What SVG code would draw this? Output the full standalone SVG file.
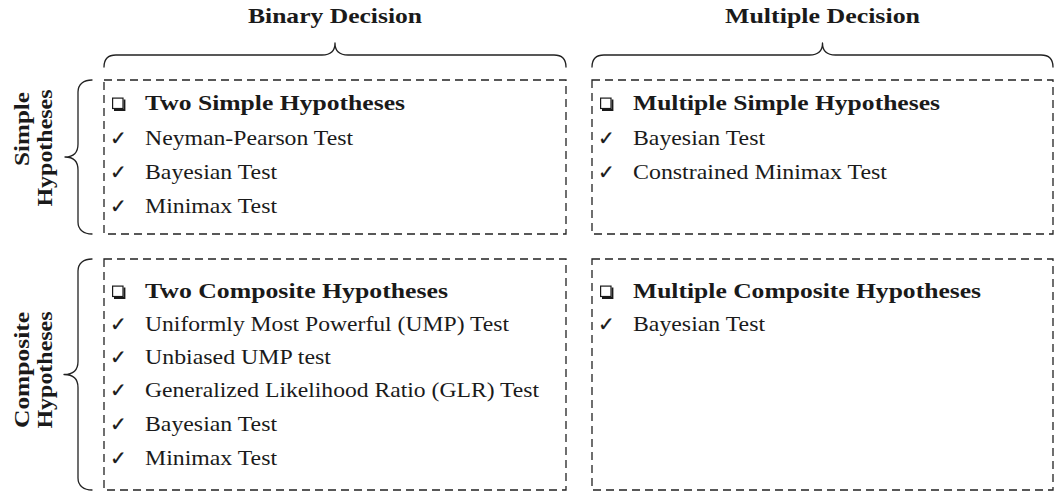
<svg xmlns="http://www.w3.org/2000/svg" width="1054" height="493" viewBox="0 0 1054 493">
  <style>
    .bg { fill: #ffffff; }
    .box { fill: none; stroke: #222222; stroke-width: 1.3; stroke-dasharray: 8 5; }
    .brace { fill: none; stroke: #222222; stroke-width: 1.3; stroke-linejoin: round; stroke-linecap: round; }
    .t { font-family: "Liberation Serif", "Times New Roman", serif; font-size: 22px; fill: #1a1a1a; }
    .b { font-weight: bold; }
    .h { text-anchor: middle; }
    .e { text-anchor: end; }
    .ck { font-family: "DejaVu Sans", sans-serif; font-size: 20px; fill: #1a1a1a; stroke: #1a1a1a; stroke-width: 0.25; }
  </style>
  <defs>
    <!-- shadowed square bullet -->
    <g id="sqbullet">
      <rect x="0.6" y="0.6" width="10.4" height="10.4" fill="none" stroke="#1a1a1a" stroke-width="1.2"/>
      <path d="M11.6,2 H13.4 V13.4 H2 V11.6 H11.6 Z" fill="#1a1a1a"/>
    </g>
  </defs>
  <rect class="bg" x="0" y="0" width="1054" height="493"/>

  <!-- column headings -->
  <g id="head-binary">
    <text class="t b h" x="335" y="23" textLength="174" lengthAdjust="spacingAndGlyphs">Binary Decision</text>
  </g>
  <g id="head-multiple">
    <text class="t b h" x="822.5" y="23" textLength="195" lengthAdjust="spacingAndGlyphs">Multiple Decision</text>
  </g>

  <!-- row headings -->
  <g id="row-simple">
    <text class="t b e" transform="translate(29,92) rotate(-90)" textLength="74" lengthAdjust="spacingAndGlyphs">Simple</text>
    <text class="t b h" transform="translate(52,148) rotate(-90)" textLength="117" lengthAdjust="spacingAndGlyphs">Hypotheses</text>
  </g>
  <g id="row-composite">
    <text class="t b h" transform="translate(29,370) rotate(-90)" textLength="116" lengthAdjust="spacingAndGlyphs">Composite</text>
    <text class="t b h" transform="translate(52,370) rotate(-90)" textLength="117" lengthAdjust="spacingAndGlyphs">Hypotheses</text>
  </g>

  <!-- braces -->
  <g id="connectors">
    <path class="brace" d="M104,67 C104,59 108,55 116,55 L322,55 C330,55 335,51 335,43 C335,51 340,55 348,55 L554,55 C562,55 566,59 566,67"/>
    <path class="brace" d="M592,67 C592,59 596,55 604,55 L809.5,55 C817.5,55 822.5,51 822.5,43 C822.5,51 827.5,55 835.5,55 L1041,55 C1049,55 1053,59 1053,67"/>
    <path class="brace" d="M92,80 C84,80 78,84 78,92 L78,144 C78,152 74,157 65,157 C74,157 78,162 78,170 L78,222 C78,230 84,234 92,234"/>
    <path class="brace" d="M92,259 C84,259 78,263 78,271 L78,361.5 C78,369.5 74,374.5 64,374.5 C74,374.5 78,379.5 78,387.5 L78,478 C78,486 84,490 92,490"/>
  </g>

  <!-- binary / simple -->
  <g id="cell-binary-simple">
    <rect class="box" x="104" y="80" width="462" height="154"/>
    <use href="#sqbullet" x="112" y="97.5"/>
    <text class="t b" x="145" y="110" textLength="260" lengthAdjust="spacingAndGlyphs">Two Simple Hypotheses</text>
    <text class="ck" x="110" y="145">✓</text>
    <text class="t" x="145" y="145" textLength="208" lengthAdjust="spacingAndGlyphs">Neyman-Pearson Test</text>
    <text class="ck" x="110" y="179">✓</text>
    <text class="t" x="145" y="179" textLength="132" lengthAdjust="spacingAndGlyphs">Bayesian Test</text>
    <text class="ck" x="110" y="213">✓</text>
    <text class="t" x="145" y="213" textLength="132" lengthAdjust="spacingAndGlyphs">Minimax Test</text>
  </g>

  <!-- multiple / simple -->
  <g id="cell-multiple-simple">
    <rect class="box" x="592" y="80" width="461" height="154"/>
    <use href="#sqbullet" x="600" y="97.5"/>
    <text class="t b" x="633" y="110" textLength="307" lengthAdjust="spacingAndGlyphs">Multiple Simple Hypotheses</text>
    <text class="ck" x="598" y="145">✓</text>
    <text class="t" x="633" y="145" textLength="132" lengthAdjust="spacingAndGlyphs">Bayesian Test</text>
    <text class="ck" x="598" y="179">✓</text>
    <text class="t" x="633" y="179" textLength="254" lengthAdjust="spacingAndGlyphs">Constrained Minimax Test</text>
  </g>

  <!-- binary / composite -->
  <g id="cell-binary-composite">
    <rect class="box" x="104" y="259" width="462" height="231"/>
    <use href="#sqbullet" x="112" y="285.5"/>
    <text class="t b" x="145" y="298" textLength="303" lengthAdjust="spacingAndGlyphs">Two Composite Hypotheses</text>
    <text class="ck" x="110" y="331">✓</text>
    <text class="t" x="145" y="331" textLength="364" lengthAdjust="spacingAndGlyphs">Uniformly Most Powerful (UMP) Test</text>
    <text class="ck" x="110" y="364">✓</text>
    <text class="t" x="145" y="364" textLength="186" lengthAdjust="spacingAndGlyphs">Unbiased UMP test</text>
    <text class="ck" x="110" y="397">✓</text>
    <text class="t" x="145" y="397" textLength="394" lengthAdjust="spacingAndGlyphs">Generalized Likelihood Ratio (GLR) Test</text>
    <text class="ck" x="110" y="431">✓</text>
    <text class="t" x="145" y="431" textLength="132" lengthAdjust="spacingAndGlyphs">Bayesian Test</text>
    <text class="ck" x="110" y="465">✓</text>
    <text class="t" x="145" y="465" textLength="132" lengthAdjust="spacingAndGlyphs">Minimax Test</text>
  </g>

  <!-- multiple / composite -->
  <g id="cell-multiple-composite">
    <rect class="box" x="592" y="259" width="461" height="231"/>
    <use href="#sqbullet" x="600" y="285.5"/>
    <text class="t b" x="633" y="298" textLength="348" lengthAdjust="spacingAndGlyphs">Multiple Composite Hypotheses</text>
    <text class="ck" x="598" y="331">✓</text>
    <text class="t" x="633" y="331" textLength="132" lengthAdjust="spacingAndGlyphs">Bayesian Test</text>
  </g>
</svg>
